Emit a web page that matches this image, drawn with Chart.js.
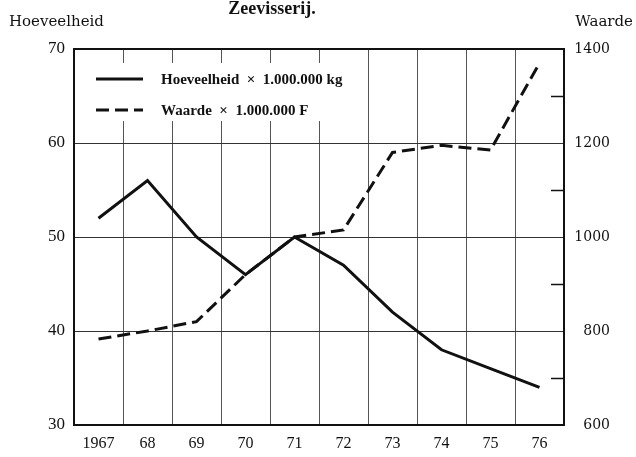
<!DOCTYPE html>
<html>
<head>
<meta charset="utf-8">
<script src="https://cdn.jsdelivr.net/npm/chart.js@4.4.1/dist/chart.umd.min.js"></script>
<style>
  html, body { margin: 0; padding: 0; background: #fff; }
  #wrap { width: 636px; height: 457px; }
</style>
</head>
<body>
<div id="wrap"><canvas id="chart" width="636" height="457"></canvas></div>
<script>
// data
const years = ['1967', '68', '69', '70', '71', '72', '73', '74', '75', '76'];
const hoeveelheid = [52, 56, 50, 46, 50, 47, 42, 38, 36, 34];   // x 1.000.000 kg
const waarde = [783, 800, 820, 920, 1000, 1015, 1180, 1195, 1185, 1370]; // x 1.000.000 F
const minorTicks = [700, 900, 1100, 1300];

const SERIF = '"Liberation Serif", serif';
const WIDE = '"DejaVu Serif", serif';

// texts round the chart, legend box and the short ticks on the right
const decorPlugin = {
  id: 'decor',
  beforeDatasetsDraw(chart) {
    const ctx = chart.ctx;
    const a = chart.chartArea;
    const y2 = chart.scales.y2;
    ctx.save();
    // legend box covers the grid
    ctx.fillStyle = '#fff';
    ctx.fillRect(a.left + 2, a.top + 14, 286, 58);
    // minor ticks on right axis
    ctx.strokeStyle = '#111';
    ctx.lineWidth = 1.5;
    minorTicks.forEach(v => {
      const py = Math.round(y2.getPixelForValue(v)) + 0.5;
      ctx.beginPath();
      ctx.moveTo(a.right - 13, py);
      ctx.lineTo(a.right, py);
      ctx.stroke();
    });
    ctx.restore();
  },
  afterDraw(chart) {
    const ctx = chart.ctx;
    ctx.save();
    ctx.fillStyle = '#111';
    ctx.textBaseline = 'alphabetic';
    ctx.font = 'bold 18px ' + SERIF;
    ctx.textAlign = 'center';
    ctx.fillText('Zeevisserij.', 272, 14);
    ctx.font = '15px ' + WIDE;
    ctx.textAlign = 'left';
    ctx.fillText('Hoeveelheid', 9, 26);
    ctx.textAlign = 'right';
    ctx.fillText('Waarde', 633, 26);

    // legend
    ctx.strokeStyle = '#111';
    ctx.lineWidth = 3;
    ctx.beginPath();
    ctx.moveTo(96, 79);
    ctx.lineTo(143, 79);
    ctx.stroke();
    ctx.setLineDash([13, 6]);
    ctx.beginPath();
    ctx.moveTo(96, 110);
    ctx.lineTo(143, 110);
    ctx.stroke();
    ctx.setLineDash([]);
    ctx.font = 'bold 15px ' + SERIF;
    ctx.textAlign = 'left';
    ctx.fillText('Hoeveelheid  \u00d7  1.000.000 kg', 161, 84);
    ctx.fillText('Waarde  \u00d7  1.000.000 F', 161, 115);
    ctx.restore();
  }
};

new Chart(document.getElementById('chart'), {
  type: 'line',
  plugins: [decorPlugin],
  data: {
    labels: years,
    datasets: [
      {
        label: 'Hoeveelheid \u00d7 1.000.000 kg',
        data: hoeveelheid,
        yAxisID: 'y',
        borderColor: '#111',
        borderWidth: 3,
        pointRadius: 0,
        tension: 0
      },
      {
        label: 'Waarde \u00d7 1.000.000 F',
        data: waarde,
        yAxisID: 'y2',
        borderColor: '#111',
        borderWidth: 3,
        borderDash: [13, 6],
        pointRadius: 0,
        tension: 0
      }
    ]
  },
  options: {
    responsive: false,
    animation: false,
    layout: { padding: { top: 49, right: 26, left: 0, bottom: 0 } },
    plugins: {
      legend: { display: false },
      tooltip: { enabled: false },
      title: { display: false }
    },
    scales: {
      x: {
        offset: true,
        grid: {
          offset: true,
          color: '#555',
          lineWidth: 1,
          drawTicks: false
        },
        border: { color: '#111', width: 2 },
        ticks: {
          color: '#111',
          font: { family: SERIF, size: 16 },
          padding: 9,
          maxRotation: 0
        },
        afterFit(s) { s.height = 32; }
      },
      y: {
        position: 'left',
        min: 30,
        max: 70,
        grid: {
          color: ctx => ctx.tick && ctx.tick.value === 70 ? '#111' : '#333',
          lineWidth: ctx => ctx.tick && ctx.tick.value === 70 ? 2 : 1,
          drawTicks: false
        },
        border: { color: '#111', width: 2 },
        ticks: {
          stepSize: 10,
          color: '#111',
          font: { family: SERIF, size: 17 },
          padding: 9
        },
        afterFit(s) { s.width = 74; }
      },
      y2: {
        position: 'right',
        min: 600,
        max: 1400,
        grid: { drawOnChartArea: false, drawTicks: false },
        border: { color: '#111', width: 2 },
        ticks: {
          stepSize: 200,
          color: '#111',
          font: { family: WIDE, size: 14 },
          padding: 8,
          crossAlign: 'far',
          callback: v => String(v)
        },
        afterFit(s) { s.width = 46; }
      }
    }
  }
});
</script>
</body>
</html>
